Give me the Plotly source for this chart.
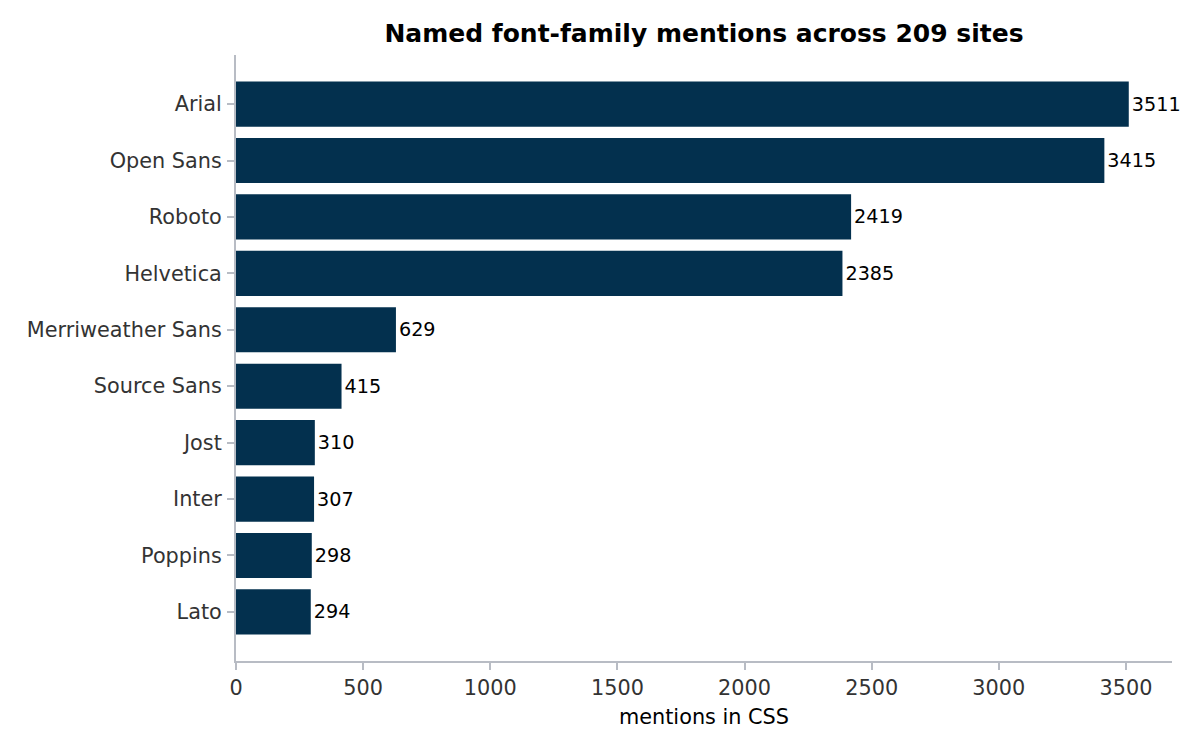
import plotly.graph_objects as go

fonts = ["Arial", "Open Sans", "Roboto", "Helvetica", "Merriweather Sans",
         "Source Sans", "Jost", "Inter", "Poppins", "Lato"]
mentions = [3511, 3415, 2419, 2385, 629, 415, 310, 307, 298, 294]

fig = go.Figure(go.Bar(
    x=mentions, y=fonts, orientation="h",
    marker=dict(color="#03304e", line=dict(width=0)),
    width=0.8,
    text=mentions, textposition="outside", cliponaxis=False,
    textfont=dict(color="black", size=19.2, family="DejaVu Sans"),
))

fig.update_layout(
    width=1184, height=734,
    paper_bgcolor="white", plot_bgcolor="white",
    font=dict(family="DejaVu Sans", size=20.8, color="#333333"),
    title=dict(text="<b>Named font-family mentions across 209 sites</b>",
               x=696 / 1184, xanchor="center", xref="container",
               y=1 - 25 / 734, yanchor="middle",
               font=dict(size=25, color="black")),
    margin=dict(l=228, r=20, t=47, b=81),
    showlegend=False,
)
fig.update_xaxes(
    range=[0, 3681], tickvals=[0, 500, 1000, 1500, 2000, 2500, 3000, 3500],
    showgrid=False, zeroline=False,
    showline=True, linecolor="#b8bcc4", linewidth=2,
    ticks="outside", ticklen=7, tickcolor="#b8bcc4", tickwidth=1.5,
    ticklabelstandoff=0,
    title=dict(text="mentions in CSS", font=dict(size=20.8, color="black"), standoff=10),
)
fig.update_yaxes(
    autorange=False, range=[9.87, -0.87],
    showgrid=False, zeroline=False,
    showline=True, linecolor="#b8bcc4", linewidth=2,
    ticks="outside", ticklen=7, tickcolor="#b8bcc4", tickwidth=1.5,
    ticklabelstandoff=1,
)

fig.write_html("out.html")
